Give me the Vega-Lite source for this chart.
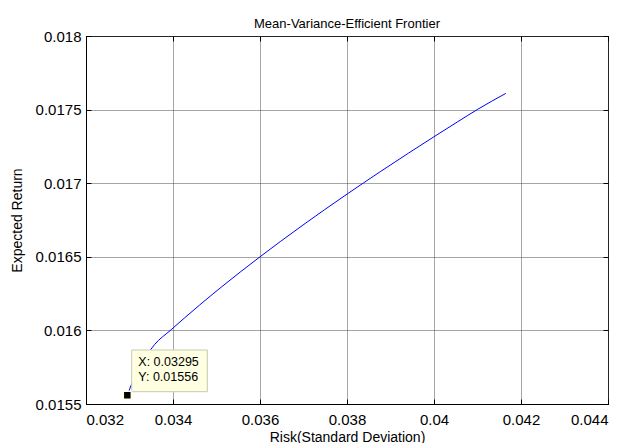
{
  "$schema": "https://vega.github.io/schema/vega-lite/v6.json",
  "width": 522,
  "height": 368,
  "autosize": {"type": "none"},
  "padding": {"left": 86, "top": 36, "right": 19, "bottom": 39},
  "background": "white",
  "config": {
    "font": "Liberation Sans",
    "view": {"stroke": "black", "strokeWidth": 1},
    "axis": {
      "labelFont": "Liberation Sans",
      "titleFont": "Liberation Sans",
      "labelColor": "black",
      "titleColor": "black",
      "titleFontWeight": "normal",
      "domainColor": "black",
      "tickColor": "black",
      "gridColor": "#4a4a4a",
      "gridDash": [1, 1],
      "gridWidth": 1,
      "tickSize": -5
    }
  },
  "title": {
    "text": "Mean-Variance-Efficient Frontier",
    "font": "Liberation Sans",
    "fontSize": 13,
    "fontWeight": "normal",
    "color": "black",
    "anchor": "middle",
    "baseline": "alphabetic",
    "offset": 11,
    "dy": 23
  },
  "datasets": {
    "frontier": [
      {"risk": 0.03295, "ret": 0.01556},
      {"risk": 0.033011, "ret": 0.015607},
      {"risk": 0.03318, "ret": 0.015725},
      {"risk": 0.03338, "ret": 0.015825},
      {"risk": 0.03358, "ret": 0.015905},
      {"risk": 0.033931, "ret": 0.015998},
      {"risk": 0.034614, "ret": 0.016173},
      {"risk": 0.035123, "ret": 0.016297},
      {"risk": 0.035557, "ret": 0.016399},
      {"risk": 0.036, "ret": 0.0165},
      {"risk": 0.036465, "ret": 0.016603},
      {"risk": 0.036989, "ret": 0.016716},
      {"risk": 0.037475, "ret": 0.016818},
      {"risk": 0.038026, "ret": 0.016931},
      {"risk": 0.038385, "ret": 0.017003},
      {"risk": 0.038764, "ret": 0.017078},
      {"risk": 0.039407, "ret": 0.017203},
      {"risk": 0.03998, "ret": 0.017312},
      {"risk": 0.040548, "ret": 0.017418},
      {"risk": 0.041005, "ret": 0.017502},
      {"risk": 0.04165, "ret": 0.01761}
    ],
    "tip": [
      {"risk": 0.03295, "ret": 0.01556, "lx": "X: 0.03295", "ly": "Y: 0.01556"}
    ]
  },
  "resolve": {"axis": {"x": "independent", "y": "independent"}},
  "layer": [
    {
      "data": {"name": "frontier"},
      "mark": {"type": "line", "color": "#0000ff", "strokeWidth": 1, "interpolate": "monotone"},
      "encoding": {
        "x": {
          "field": "risk", "type": "quantitative",
          "scale": {"domain": [0.032, 0.044], "nice": false, "zero": false},
          "axis": {
            "orient": "bottom",
            "values": [0.032, 0.034, 0.036, 0.038, 0.04, 0.042, 0.044],
            "format": ".3~f",
            "title": "Risk(Standard Deviation)",
            "labelFontSize": 15,
            "labelPadding": 13,
            "titleFontSize": 14,
            "titleX": 261,
            "titleY": 37,
            "titleBaseline": "alphabetic",
            "grid": true
          }
        },
        "y": {
          "field": "ret", "type": "quantitative",
          "scale": {"domain": [0.0155, 0.018], "nice": false, "zero": false},
          "axis": {
            "orient": "left",
            "values": [0.0155, 0.016, 0.0165, 0.017, 0.0175, 0.018],
            "format": ".4~f",
            "title": "Expected Return",
            "labelFontSize": 15,
            "labelPadding": 10,
            "titleFontSize": 14,
            "titleX": -65,
            "titleY": 184,
            "titleBaseline": "alphabetic",
            "grid": true
          }
        }
      }
    },
    {
      "data": {"name": "tip"},
      "mark": {"type": "rect", "fill": "#ffffe1", "stroke": "#c9c9b0", "strokeWidth": 1},
      "encoding": {
        "x": {"datum": 0.0330506, "type": "quantitative", "axis": {"orient": "top", "labels": false, "grid": false, "domain": false, "title": null, "values": [0.032, 0.034, 0.036, 0.038, 0.04, 0.042, 0.044]}},
        "x2": {"datum": 0.0347885},
        "y": {"datum": 0.0158668, "type": "quantitative", "axis": {"orient": "right", "labels": false, "grid": false, "domain": false, "title": null, "values": [0.0155, 0.016, 0.0165, 0.017, 0.0175, 0.018]}},
        "y2": {"datum": 0.0155836}
      }
    },
    {
      "data": {"name": "tip"},
      "mark": {"type": "text", "align": "left", "baseline": "alphabetic", "dx": 11, "dy": -29, "fontSize": 12.5, "font": "Liberation Sans", "color": "black"},
      "encoding": {
        "x": {"field": "risk", "type": "quantitative", "axis": null},
        "y": {"field": "ret", "type": "quantitative", "axis": null},
        "text": {"field": "lx"}
      }
    },
    {
      "data": {"name": "tip"},
      "mark": {"type": "text", "align": "left", "baseline": "alphabetic", "dx": 11, "dy": -14, "fontSize": 12.5, "font": "Liberation Sans", "color": "black"},
      "encoding": {
        "x": {"field": "risk", "type": "quantitative", "axis": null},
        "y": {"field": "ret", "type": "quantitative", "axis": null},
        "text": {"field": "ly"}
      }
    },
    {
      "data": {"name": "tip"},
      "mark": {"type": "point", "shape": "square", "filled": true, "fill": "black", "stroke": "#ffffe1", "strokeWidth": 1.5, "size": 64, "opacity": 1},
      "encoding": {
        "x": {"field": "risk", "type": "quantitative", "axis": null},
        "y": {"field": "ret", "type": "quantitative", "axis": null}
      }
    }
  ]
}
